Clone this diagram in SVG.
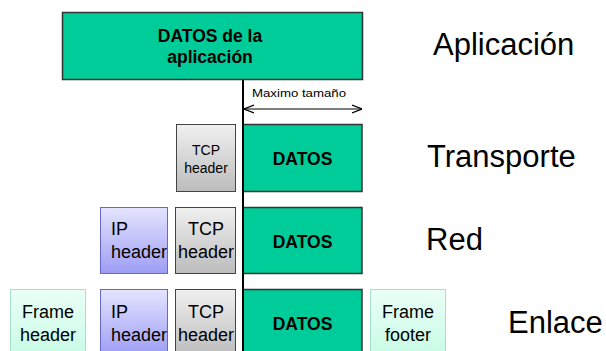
<svg xmlns="http://www.w3.org/2000/svg" width="606" height="351" viewBox="0 0 606 351">
<defs>
<linearGradient id="gGray" x1="0" y1="0" x2="0" y2="1"><stop offset="0" stop-color="#f0f0f0"/><stop offset="1" stop-color="#bcbcbc"/></linearGradient>
<linearGradient id="gBlue" x1="0" y1="0" x2="0" y2="1"><stop offset="0" stop-color="#e4e4ff"/><stop offset="1" stop-color="#9d9df5"/></linearGradient>
<linearGradient id="gMint" x1="0" y1="0" x2="0" y2="1"><stop offset="0" stop-color="#eafff6"/><stop offset="1" stop-color="#c8fbe6"/></linearGradient>
<marker id="arr" viewBox="0 0 10 10" refX="10" refY="5" markerWidth="10" markerHeight="10" markerUnits="userSpaceOnUse" orient="auto-start-reverse"><path d="M0,1 L10,5 L0,9" fill="none" stroke="#000" stroke-width="1.2"/></marker>
<style>
.green{fill:#00cc99;stroke:#333;stroke-width:1.5}
.gray{fill:url(#gGray);stroke:#444;stroke-width:1}
.blue{fill:url(#gBlue);stroke:#6666cc;stroke-width:1}
.mint{fill:url(#gMint);stroke:#a8e0cc;stroke-width:1}
text{font-family:"Liberation Sans",Arial,sans-serif;fill:#000}
.b{font-weight:bold;font-size:17.5px;text-anchor:middle}
.h{font-size:18px}
.hs{font-size:14px;text-anchor:middle}
.c{text-anchor:middle}
.lab{font-size:31px}
</style>
</defs>
<g id="app">
<rect class="green" x="62.5" y="12.5" width="300" height="67"/>
<text class="b" x="210" y="42">DATOS de la</text>
<text class="b" x="210" y="63">aplicación</text>
</g>
<g id="transport-tcp">
<rect class="gray" x="176.5" y="124.5" width="59" height="67"/>
<text class="hs" x="206" y="155">TCP</text>
<text class="hs" x="206" y="173">header</text>
</g>
<g id="transport-datos">
<rect class="green" x="243" y="124.5" width="119" height="67"/>
<text class="b" x="302.5" y="165">DATOS</text>
</g>
<g id="red-ip">
<rect class="blue" x="100.5" y="207.5" width="67" height="66"/>
<text class="h" x="111" y="235">IP</text>
<text class="h" x="111" y="258">header</text>
</g>
<g id="red-tcp">
<rect class="gray" x="175.5" y="207.5" width="60" height="66"/>
<text class="h c" x="206" y="235">TCP</text>
<text class="h c" x="206" y="258">header</text>
</g>
<g id="red-datos">
<rect class="green" x="243" y="207.5" width="119" height="66"/>
<text class="b" x="302.5" y="248">DATOS</text>
</g>
<g id="enl-frameheader">
<rect class="mint" x="10.5" y="289.5" width="75" height="66"/>
<text class="h c" x="48" y="318">Frame</text>
<text class="h c" x="48" y="341">header</text>
</g>
<g id="enl-ip">
<rect class="blue" x="100.5" y="289.5" width="67" height="66"/>
<text class="h" x="111" y="318">IP</text>
<text class="h" x="111" y="341">header</text>
</g>
<g id="enl-tcp">
<rect class="gray" x="175.5" y="289.5" width="60" height="66"/>
<text class="h c" x="206" y="318">TCP</text>
<text class="h c" x="206" y="341">header</text>
</g>
<g id="enl-datos">
<rect class="green" x="243" y="289.5" width="119" height="66"/>
<text class="b" x="302.5" y="330">DATOS</text>
</g>
<g id="enl-framefooter">
<rect class="mint" x="370.5" y="289.5" width="75" height="66"/>
<text class="h c" x="408" y="318">Frame</text>
<text class="h c" x="408" y="341">footer</text>
</g>
<g id="connectors">
<line x1="243" y1="80" x2="243" y2="351" stroke="#000" stroke-width="2"/>
<line x1="244" y1="109" x2="362" y2="109" stroke="#000" stroke-width="1.2" marker-start="url(#arr)" marker-end="url(#arr)"/>
<text x="252" y="97" font-size="11.5" textLength="94" lengthAdjust="spacingAndGlyphs">Maximo tamaño</text>
</g>
<g id="labels">
<text class="lab" x="433" y="55">Aplicación</text>
<text class="lab" x="427" y="167">Transporte</text>
<text class="lab" x="426" y="250">Red</text>
<text class="lab" x="508" y="333">Enlace</text>
</g>
</svg>
